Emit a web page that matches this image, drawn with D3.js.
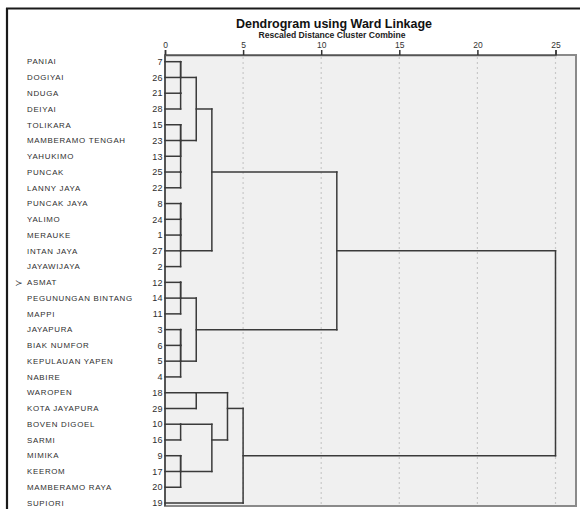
<!DOCTYPE html>
<html>
<head>
<meta charset="utf-8">
<script src="https://cdn.jsdelivr.net/npm/d3@7"></script>
<style>
  body { margin: 0; background: #fff; }
  svg { display: block; font-family: Arial, "Liberation Sans", sans-serif; }
</style>
</head>
<body>
<svg width="580" height="509"></svg>
<script>
// case labels in dendrogram order (top to bottom)
const caseNames = [
  'PANIAI', 'DOGIYAI', 'NDUGA', 'DEIYAI', 'TOLIKARA', 'MAMBERAMO TENGAH',
  'YAHUKIMO', 'PUNCAK', 'LANNY JAYA', 'PUNCAK JAYA', 'YALIMO', 'MERAUKE',
  'INTAN JAYA', 'JAYAWIJAYA', 'ASMAT', 'PEGUNUNGAN BINTANG', 'MAPPI',
  'JAYAPURA', 'BIAK NUMFOR', 'KEPULAUAN YAPEN', 'NABIRE', 'WAROPEN',
  'KOTA JAYAPURA', 'BOVEN DIGOEL', 'SARMI', 'MIMIKA', 'KEEROM',
  'MAMBERAMO RAYA', 'SUPIORI'
];
const caseIds = [7, 26, 21, 28, 15, 23, 13, 25, 22, 8, 24, 1, 27, 2, 12, 14, 11,
  3, 6, 5, 4, 18, 29, 10, 16, 9, 17, 20, 19];

// agglomeration: [case in cluster 1, case in cluster 2, rescaled distance]
const merges = [
  [7, 26, 1], [21, 28, 1], [7, 21, 1],
  [23, 13, 1], [15, 23, 1], [25, 22, 1], [15, 25, 1],
  [7, 15, 2],
  [8, 24, 1], [8, 1, 1], [8, 27, 1], [8, 2, 1],
  [7, 8, 3],
  [12, 14, 1], [12, 11, 1],
  [3, 6, 1], [3, 5, 1], [3, 4, 1],
  [12, 3, 2],
  [7, 12, 11],
  [18, 29, 2], [10, 16, 1], [9, 17, 1], [9, 20, 1],
  [10, 9, 3], [18, 10, 4], [18, 19, 5],
  [7, 18, 25]
];
const ticks = [0, 5, 10, 15, 20, 25];
const markedCase = 'ASMAT';

const $svg = d3.select('svg');
const plot = { left: 165, right: 576, top: 55, bottom: 506 };

const x = d3.scaleLinear().domain([0, 25]).range([plot.left, 555.5]);
const y = d3.scaleLinear().domain([0, caseIds.length - 1]).range([61.7, 503]);

function buildTree() {
  const leaves = new Map();
  caseIds.forEach((id, i) => leaves.set(id, { h: 0, out: i }));
  const root = id => {
    let n = leaves.get(id);
    while (n.parent) n = n.parent;
    return n;
  };
  const segs = [];
  merges.forEach(([a, b, h]) => {
    const na = root(a);
    const nb = root(b);
    const top = na.out < nb.out ? na : nb;
    const bot = top === na ? nb : na;
    const node = { h, out: Math.floor((top.out + bot.out) / 2) };
    na.parent = nb.parent = node;
    // arms into this join, then the vertical join
    segs.push({ x1: x(top.h), x2: x(h), y1: y(top.out), y2: y(top.out) });
    segs.push({ x1: x(bot.h), x2: x(h), y1: y(bot.out), y2: y(bot.out) });
    segs.push({ x1: x(h), x2: x(h), y1: y(top.out), y2: y(bot.out) });
  });
  return segs;
}

function drawFrame() {
  $svg.append('line')
    .attr('x1', 6).attr('x2', 580).attr('y1', 8.5).attr('y2', 8.5)
    .attr('stroke', '#1a1a1a').attr('stroke-width', 2.2);
  $svg.append('line')
    .attr('x1', 7).attr('x2', 7).attr('y1', 8).attr('y2', 509)
    .attr('stroke', '#1a1a1a').attr('stroke-width', 2.2);

  $svg.append('rect')
    .attr('x', plot.left).attr('y', plot.top)
    .attr('width', plot.right - plot.left).attr('height', plot.bottom - plot.top)
    .attr('fill', '#f0f0f0').attr('stroke', '#8a8a8a').attr('stroke-width', 2);

  // dotted grid
  $svg.selectAll('.grid')
    .data(ticks.slice(1))
    .join('line')
    .attr('class', 'grid')
    .attr('x1', x).attr('x2', x)
    .attr('y1', plot.top + 2).attr('y2', plot.bottom - 1)
    .attr('stroke', '#c8c8c8').attr('stroke-width', 1.2)
    .attr('stroke-dasharray', '2,3');
}

function drawAxis() {
  const axis = d3.axisTop(x).tickValues(ticks).tickSize(5).tickPadding(2);
  const g = $svg.append('g')
    .attr('transform', `translate(0,${plot.top})`)
    .call(axis);
  g.select('.domain').attr('stroke', '#555').attr('stroke-width', 1.5);
  g.selectAll('.tick line').attr('stroke', '#333').attr('stroke-width', 1.5);
  g.selectAll('.tick text')
    .attr('fill', '#333').attr('font-size', 8.5).attr('font-family', 'Arial, "Liberation Sans", sans-serif');

  $svg.append('line')
    .attr('x1', plot.left).attr('x2', plot.left)
    .attr('y1', plot.top).attr('y2', plot.bottom)
    .attr('stroke', '#555').attr('stroke-width', 2);

  $svg.append('text')
    .attr('x', 334).attr('y', 27.5)
    .attr('text-anchor', 'middle')
    .attr('font-size', 12.5).attr('font-weight', 'bold').attr('fill', '#111')
    .text('Dendrogram using Ward Linkage');
  $svg.append('text')
    .attr('x', 332).attr('y', 38)
    .attr('text-anchor', 'middle')
    .attr('font-size', 8.6).attr('font-weight', 'bold').attr('fill', '#222')
    .text('Rescaled Distance Cluster Combine');
}

function drawLabels() {
  $svg.selectAll('.name')
    .data(caseNames)
    .join('text')
    .attr('class', 'name')
    .attr('x', 27).attr('y', (d, i) => y(i))
    .attr('dy', '0.35em')
    .attr('font-size', 7.9).attr('letter-spacing', 0.7).attr('fill', '#2e2e2e')
    .text(d => d);

  $svg.selectAll('.num')
    .data(caseIds)
    .join('text')
    .attr('class', 'num')
    .attr('x', 163).attr('y', (d, i) => y(i))
    .attr('dy', '0.36em')
    .attr('text-anchor', 'end')
    .attr('font-size', 9).attr('letter-spacing', 0.4).attr('fill', '#2e2e2e')
    .text(d => d);

  $svg.append('text')
    .attr('x', 15).attr('y', y(caseNames.indexOf(markedCase)))
    .attr('dy', '0.35em')
    .attr('font-size', 9).attr('fill', '#333')
    .text('≻');
}

function drawTree() {
  $svg.append('g')
    .selectAll('line')
    .data(buildTree())
    .join('line')
    .attr('x1', d => d.x1).attr('x2', d => d.x2)
    .attr('y1', d => d.y1).attr('y2', d => d.y2)
    .attr('stroke', '#3a3a3a').attr('stroke-width', 1.5)
    .attr('stroke-linecap', 'square');
}

function init() {
  drawFrame();
  drawAxis();
  drawTree();
  drawLabels();
}

init();
</script>
</body>
</html>
